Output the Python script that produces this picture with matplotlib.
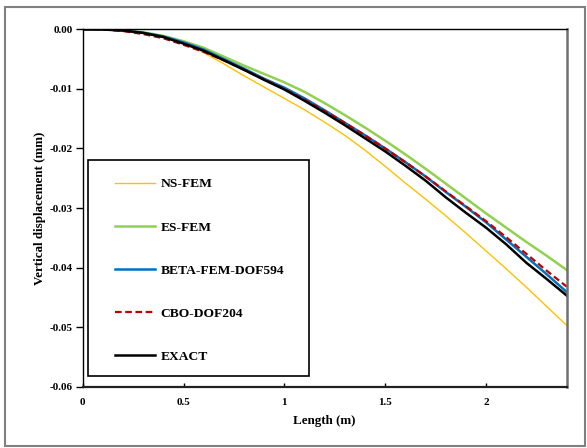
import matplotlib
matplotlib.use("Agg")
import matplotlib.pyplot as plt
from matplotlib.patches import Rectangle
from matplotlib.lines import Line2D

plt.rcParams['font.family'] = ['Liberation Serif', 'DejaVu Serif']
plt.rcParams['font.weight'] = 'bold'

length = [0, 0.1, 0.2, 0.3, 0.4, 0.5, 0.6, 0.7, 0.8, 0.9, 1.0, 1.1, 1.2,
          1.3, 1.4, 1.5, 1.6, 1.7, 1.8, 1.9, 2.0, 2.1, 2.2, 2.3, 2.4]

ns_fem = [0, -0.00002, -0.0002, -0.0006, -0.0013, -0.0024, -0.0039, -0.0058,
          -0.0078, -0.0097, -0.0116, -0.0135, -0.0156, -0.0178, -0.0203,
          -0.0230, -0.0258, -0.0285, -0.0313, -0.0342, -0.0372, -0.0402,
          -0.0433, -0.0465, -0.0497]

es_fem = [0, -0.00002, -0.0002, -0.0005, -0.0011, -0.0020, -0.0031, -0.0046,
          -0.0061, -0.0075, -0.0089, -0.0105, -0.0124, -0.0144, -0.0165,
          -0.0187, -0.0210, -0.0234, -0.0259, -0.0284, -0.0309, -0.0333,
          -0.0357, -0.0380, -0.0404]

beta_fem = [0, -0.00002, -0.0002, -0.0006, -0.0012, -0.0022, -0.0034, -0.0050,
            -0.0066, -0.0083, -0.0098, -0.0116, -0.0136, -0.0157, -0.0178,
            -0.0200, -0.0223, -0.0247, -0.0273, -0.0298, -0.0324, -0.0353,
            -0.0382, -0.0411, -0.0441]

cbo = [0, -0.00003, -0.0003, -0.0008, -0.0015, -0.0026, -0.0038, -0.0052,
       -0.0068, -0.0084, -0.0100, -0.0118, -0.0137, -0.0157, -0.0178,
       -0.0200, -0.0223, -0.0247, -0.0272, -0.0297, -0.0322, -0.0349,
       -0.0377, -0.0405, -0.0432]

exact = [0, -0.00002, -0.0002, -0.0006, -0.0013, -0.0024, -0.0036, -0.0052,
         -0.0068, -0.0085, -0.0101, -0.0120, -0.0140, -0.0161, -0.0183,
         -0.0205, -0.0229, -0.0254, -0.0282, -0.0308, -0.0333, -0.0361,
         -0.0392, -0.0419, -0.0447]

labels = ['NS-FEM', 'ES-FEM', 'BETA-FEM-DOF594', 'CBO-DOF204', 'EXACT']
x_ticks = [0, 0.5, 1, 1.5, 2]
x_tick_labels = ['0', '0.5', '1', '1.5', '2']
y_ticks = [0.00, -0.01, -0.02, -0.03, -0.04, -0.05, -0.06]
y_tick_labels = ['0.00', '-0.01', '-0.02', '-0.03', '-0.04', '-0.05', '-0.06']

W, H = 587, 448
fig = plt.figure(figsize=(W / 100, H / 100), dpi=100)
ax = fig.add_axes([82.7 / W, 1 - 386.7 / H, (566.7 - 82.7) / W, (386.7 - 29.3) / H])

styles = [
    dict(color='#FFC000', lw=1.0, ls='-'),
    dict(color='#92D050', lw=1.8, ls='-'),
    dict(color='#0070C0', lw=1.8, ls='-'),
    dict(color='#C00000', lw=1.6, ls=(0, (3, 1.6))),
    dict(color='#000000', lw=1.8, ls='-'),
]
series = [ns_fem, es_fem, beta_fem, cbo, exact]
order = [0, 1, 4, 2, 3]
for i in order:
    ax.plot(length, series[i], **styles[i], zorder=2 + i * 0.1)

ax.set_xlim(0, 2.4)
ax.set_ylim(-0.06, 0.0)
ax.set_xticks(x_ticks)
ax.set_xticklabels(x_tick_labels)
ax.set_yticks(y_ticks)
ax.set_yticklabels(y_tick_labels)
ax.tick_params(axis='x', direction='in', length=3, width=1, pad=8, labelsize=8)
ax.tick_params(axis='y', direction='out', length=5, width=1, pad=2, labelsize=8)
for lab in ax.get_xticklabels() + ax.get_yticklabels():
    lab.set_fontweight('bold')

ax.spines['top'].set_linewidth(1.0)
ax.spines['left'].set_linewidth(1.0)
ax.spines['bottom'].set_linewidth(1.6)
ax.spines['bottom'].set_color('#202020')
ax.spines['right'].set_linewidth(1.8)
ax.spines['right'].set_color('#707070')

ax.set_xlabel('Length (m)', fontsize=9.4, fontweight='bold', labelpad=6)
ax.set_ylabel('Vertical displacement (mm)', fontsize=9.4, fontweight='bold', labelpad=3)

# legend frame
fx0 = (88 - 82.7) / 484
fy0 = (386.7 - 376) / 357.4
fw = (309 - 88) / 484
fh = (376 - 160) / 357.4
ax.add_patch(Rectangle((fx0, fy0), fw, fh, transform=ax.transAxes,
                       facecolor='white', edgecolor='#000000', lw=1.2, zorder=3))

handles = [Line2D([0], [0], **styles[i]) for i in range(5)]
leg = ax.legend(handles, labels, loc='upper left',
                bbox_to_anchor=((115 - 82.7) / 484, (386.7 - 178) / 357.4),
                frameon=False, fontsize=9.7, labelspacing=2.28,
                handlelength=3.0, handletextpad=0.37, borderpad=0, borderaxespad=0)
leg.set_zorder(4)
for t in leg.get_texts():
    t.set_fontweight('bold')

# outer border
fig.add_artist(Rectangle((5 / W, 2 / H), (585 - 5) / W, (441 - 2) / H,
                         transform=fig.transFigure, fill=False,
                         edgecolor='#808080', lw=1.5))

fig.savefig('out.png', dpi=100)
